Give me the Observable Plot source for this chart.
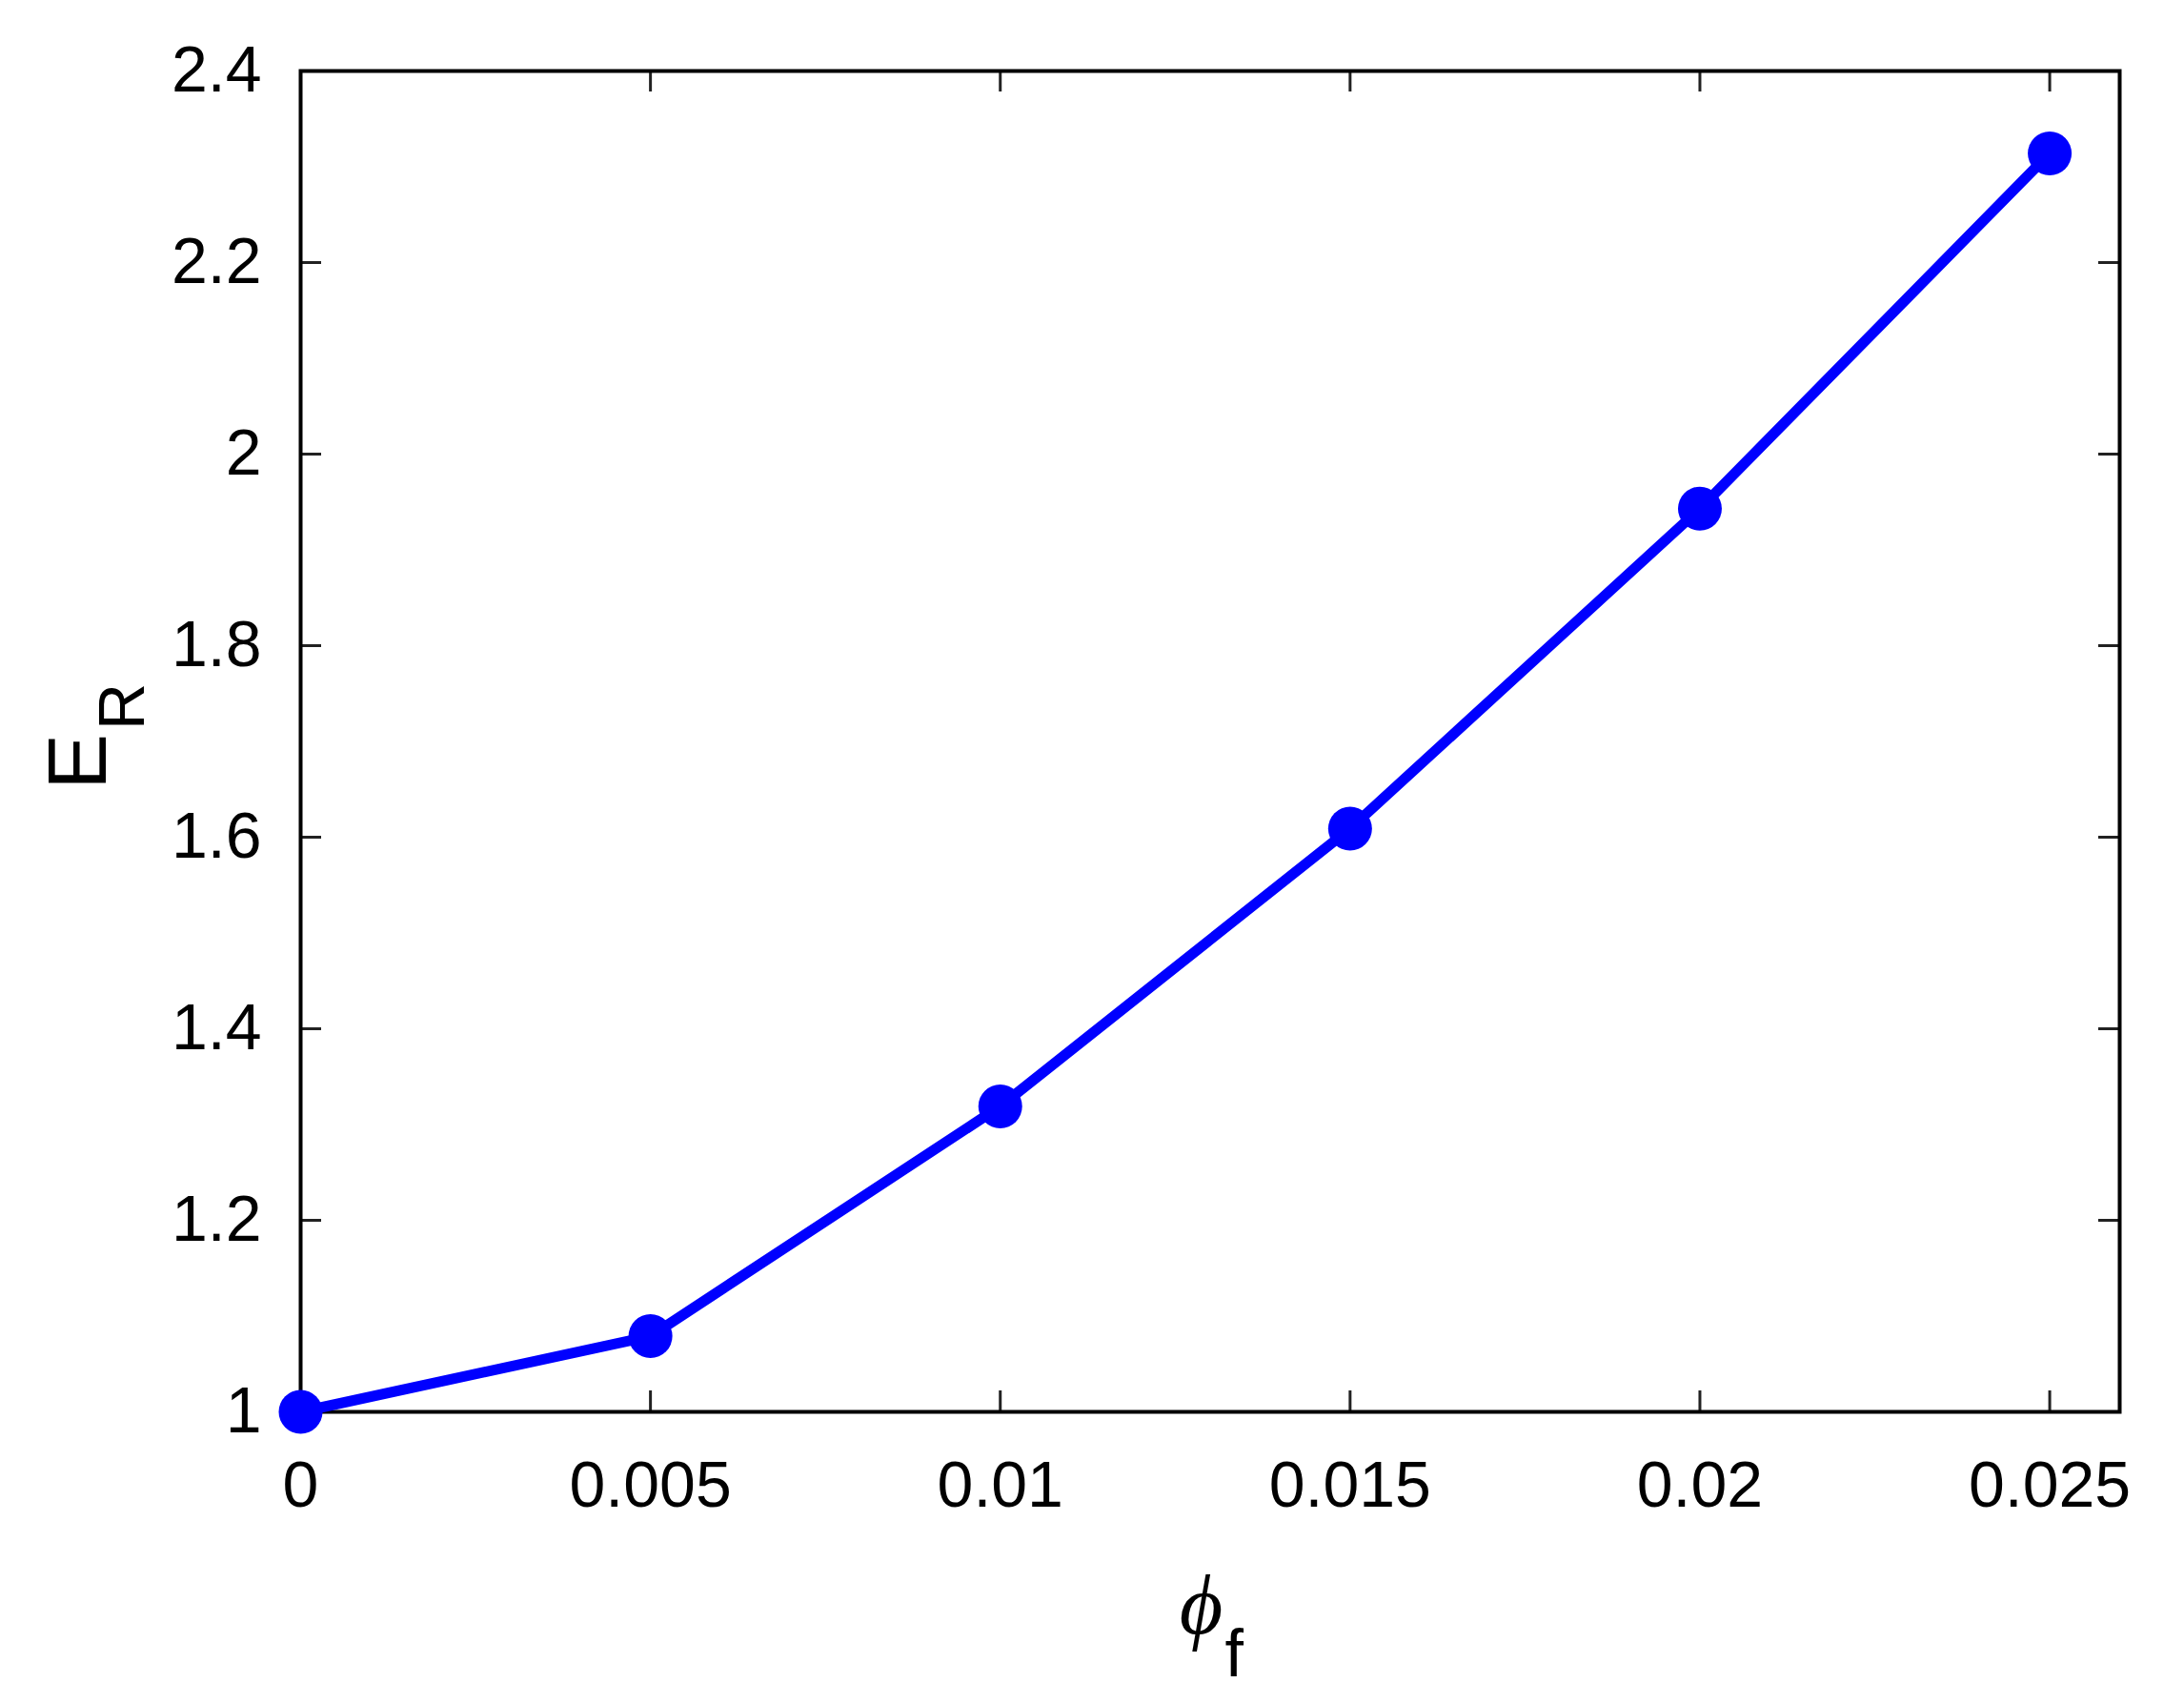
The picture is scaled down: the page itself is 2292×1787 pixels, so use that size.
<!DOCTYPE html>
<html><head><meta charset="utf-8">
<script src="https://cdn.jsdelivr.net/npm/d3@7"></script>
<script src="https://cdn.jsdelivr.net/npm/@observablehq/plot@0.6"></script>
<style>body{margin:0;background:#fff}</style>
</head><body><div id="chart"></div>
<script>
const phi = [0, 0.005, 0.01, 0.015, 0.02, 0.025];
const ER = [1.0, 1.079, 1.319, 1.609, 1.943, 2.314];
const xTicks = [0, 0.005, 0.01, 0.015, 0.02, 0.025];
const xTickLabels = ["0", "0.005", "0.01", "0.015", "0.02", "0.025"];
const yTicks = [1, 1.2, 1.4, 1.6, 1.8, 2, 2.2, 2.4];
const yTickLabels = ["1", "1.2", "1.4", "1.6", "1.8", "2", "2.2", "2.4"];
const xLabel = "ϕ", xLabelSub = "f";
const yLabel = "E", yLabelSub = "R";

const data = phi.map((p, i) => ({phi: p, ER: ER[i]}));
const W = 2292, H = 1787, mL = 315, mR = 68, mT = 74, mB = 306;
const innerH = H - mT - mB, innerW = W - mL - mR;
const tk = 22;
const sans = "Liberation Sans, Arial, sans-serif";

const chart = Plot.plot({
  width: W, height: H,
  marginLeft: mL, marginRight: mR, marginTop: mT, marginBottom: mB,
  style: {fontFamily: sans, background: "white", color: "black"},
  x: {domain: [0, 0.026]},
  y: {domain: [1, 2.4]},
  marks: [
    Plot.tickX(xTicks, {x: d => d, insetTop: innerH - tk, stroke: "#222", strokeWidth: 3}),
    Plot.tickX(xTicks, {x: d => d, insetBottom: innerH - tk, stroke: "#222", strokeWidth: 3}),
    Plot.tickY(yTicks, {y: d => d, insetRight: innerW - tk, stroke: "#222", strokeWidth: 3}),
    Plot.tickY(yTicks, {y: d => d, insetLeft: innerW - tk, stroke: "#222", strokeWidth: 3}),
    Plot.axisX(xTicks, {tickSize: 0, tickPadding: 51, fontSize: 68, label: null,
      tickFormat: d => xTickLabels[xTicks.indexOf(d)]}),
    Plot.axisY(yTicks, {tickSize: 0, tickPadding: 41, fontSize: 68, label: null,
      tickFormat: d => yTickLabels[yTicks.indexOf(d)]}),
    Plot.frame({stroke: "black", strokeWidth: 4}),
    Plot.line(data, {x: "phi", y: "ER", stroke: "#0000ff", strokeWidth: 11}),
    Plot.dot(data, {x: "phi", y: "ER", r: 23, fill: "#0000ff"}),
    Plot.text([yLabel], {text: d => d, frameAnchor: "left", rotate: -90, textAnchor: "middle",
      lineAnchor: "bottom", dx: 110 - mL, dy: 799 - (mT + innerH / 2), fontSize: 88, fill: "black"}),
    Plot.text([yLabelSub], {text: d => d, frameAnchor: "left", rotate: -90, textAnchor: "middle",
      lineAnchor: "bottom", dx: 150 - mL, dy: 741 - (mT + innerH / 2), fontSize: 68, fill: "black"}),
    Plot.text([xLabel], {text: d => d, frameAnchor: "bottom", textAnchor: "middle", lineAnchor: "bottom",
      dx: 1260 - (mL + innerW / 2), dy: 1713 - (H - mB), fontSize: 88, fontStyle: "italic",
      fontFamily: "Liberation Serif, DejaVu Serif, serif", fill: "black"}),
    Plot.text([xLabelSub], {text: d => d, frameAnchor: "bottom", textAnchor: "start", lineAnchor: "bottom",
      dx: 1285 - (mL + innerW / 2), dy: 1758 - (H - mB), fontSize: 70, fill: "black"})
  ]
});
document.getElementById("chart").appendChild(chart);
</script>
</body></html>
